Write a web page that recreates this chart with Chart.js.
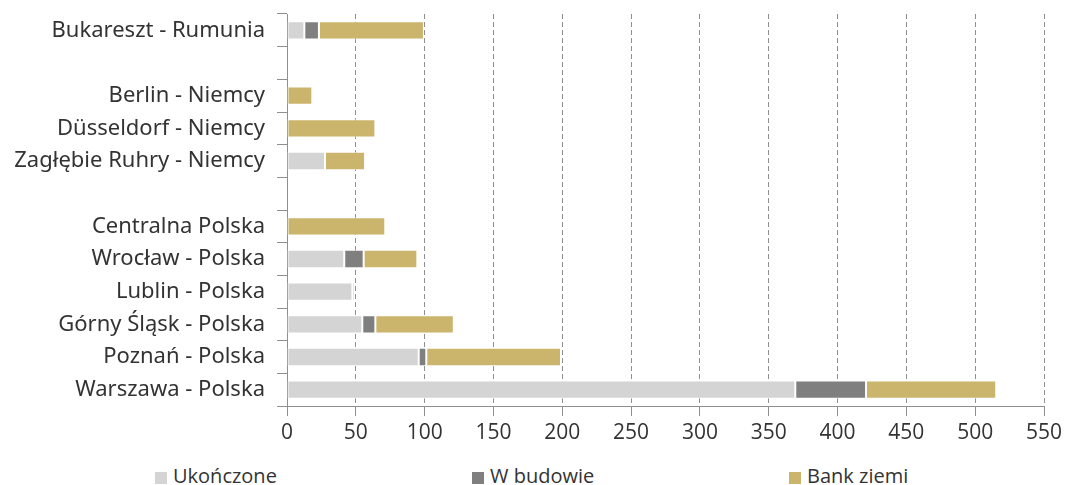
<!DOCTYPE html>
<html lang="pl">
<head>
  <meta charset="UTF-8">
  <title>Projekty magazynowe</title>
  <script src="https://cdn.jsdelivr.net/npm/chart.js"></script>
  <style>
    body { margin: 0; background: #fff; }
    .wrap { position: relative; width: 1067px; height: 485px; }
    #legend {
      position: absolute; left: 155px; top: 463px; height: 26px;
      display: flex; font-family: "Open Sans", sans-serif; font-size: 20px; color: #333;
    }
    #legend .item { width: 317px; display: flex; align-items: center; line-height: 26px; }
    #legend .box { width: 12px; height: 12px; margin-right: 6px; margin-top: 3px; }
  </style>
</head>
<body>
  <div class="wrap">
    <canvas id="chart" width="1067" height="455"></canvas>
    <div id="legend"></div>
  </div>

  <script>
    // rows top to bottom, empty strings are spacer rows between countries
    const regions = [
      'Bukareszt - Rumunia', '',
      'Berlin - Niemcy', 'Düsseldorf - Niemcy', 'Zagłębie Ruhry - Niemcy', '',
      'Centralna Polska', 'Wrocław - Polska', 'Lublin - Polska',
      'Górny Śląsk - Polska', 'Poznań - Polska', 'Warszawa - Polska'
    ];
    const seriesNames = ['Ukończone', 'W budowie', 'Bank ziemi'];
    const ukonczone = [12.6, null, null, null, 27.6, null, null, 41.6, 47.5, 54.7, 95.7, 369.3];
    const wBudowie  = [10.6, null, null, null, null, null, null, 14.1, null, 9.5, 5.5, 51.4];
    const bankZiemi = [76.3, null, 18.4, 64.2, 29.1, null, 71.4, 39.0, 1.7, 57.0, 97.9, 94.6];
    const xTicksMax = 550;
    const xTicksStep = 50;

    const colors = ['#d4d4d4', '#7f7f7f', '#cbb46b'];
    const axisColor = '#8f8f8f';
    const textColor = '#333333';

    const datasets = [ukonczone, wBudowie, bankZiemi].map((values, i) => ({
      label: seriesNames[i],
      data: values,
      backgroundColor: colors[i],
      borderColor: 'rgba(255,255,255,0.7)',
      borderWidth: 1,
      borderSkipped: false,
      barPercentage: 0.56,
      categoryPercentage: 1.0
    }));

    const chart = new Chart(document.getElementById('chart'), {
      type: 'bar',
      data: { labels: regions, datasets },
      options: {
        indexAxis: 'y',
        responsive: false,
        animation: false,
        layout: { padding: { top: 14, right: 23, left: 0, bottom: 0 } },
        plugins: {
          legend: { display: false },
          tooltip: { enabled: false }
        },
        scales: {
          x: {
            stacked: true,
            min: 0,
            max: xTicksMax,
            afterFit: s => { s.height = 49; },
            ticks: {
              stepSize: xTicksStep,
              color: textColor,
              padding: 4,
              font: { family: 'Open Sans', size: 21 }
            },
            grid: {
              color: ctx => (ctx.tick && ctx.tick.value === 0) ? 'rgba(0,0,0,0)' : axisColor,
              tickColor: axisColor,
              tickLength: 10,
              lineWidth: 1
            },
            border: { color: axisColor, dash: [5, 3] }
          },
          y: {
            stacked: true,
            afterFit: s => {
              s.width = 287;
              s.paddingTop = 0;
              s.paddingBottom = 0;
            },
            ticks: {
              color: textColor,
              padding: 12,
              font: { family: 'Noto Sans', size: 22 }
            },
            grid: {
              drawOnChartArea: false,
              offset: true,
              tickColor: axisColor,
              tickLength: 10
            },
            border: { color: axisColor }
          }
        }
      }
    });

    // legend built from the chart's datasets
    const legend = document.getElementById('legend');
    chart.data.datasets.forEach(ds => {
      const item = document.createElement('div');
      item.className = 'item';
      item.innerHTML = `<span class="box" style="background:${ds.backgroundColor}"></span><span>${ds.label}</span>`;
      legend.appendChild(item);
    });
  </script>
</body>
</html>
